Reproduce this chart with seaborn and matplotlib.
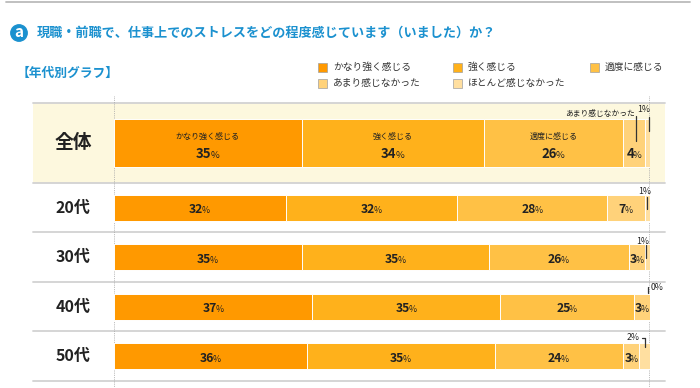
import numpy as np
import pandas as pd
import matplotlib
matplotlib.use('Agg')
import matplotlib.pyplot as plt
import matplotlib.transforms as mtransforms
from matplotlib.patches import Rectangle, Circle
import seaborn as sns

sns.set_theme(style='white')
plt.rcParams['font.family'] = ['Noto Sans CJK JP', 'DejaVu Sans']

# ---------------- data ----------------
title = '現職・前職で、仕事上でのストレスをどの程度感じています（いました）か？'
subtitle = '【年代別グラフ】'
segments = ['かなり強く感じる', '強く感じる', '適度に感じる', 'あまり感じなかった', 'ほとんど感じなかった']
colors = ['#FF9900', '#FFB11B', '#FFC145', '#FFD27A', '#FFDFA0']

total_rows = ['全体']
age_rows = ['20代', '30代', '40代', '50代']

v_total = [35, 34, 26, 4, 1]
v_20s = [32, 32, 28, 7, 1]
v_30s = [35, 35, 26, 3, 1]
v_40s = [37, 35, 25, 3, 0]
v_50s = [36, 35, 24, 3, 2]
values = {'全体': v_total, '20代': v_20s, '30代': v_30s, '40代': v_40s, '50代': v_50s}

# ---------------- figure ----------------
W, H = 700, 388
fig = plt.figure(figsize=(7, 3.88), dpi=100)

bg = fig.add_axes([0, 0, 1, 1])
bg.set_xlim(0, W)
bg.set_ylim(H, 0)
bg.axis('off')

BLUE = '#1B91CF'
TXT = '#222222'
GRID = '#D2D2D2'
LEAD = '#333333'
PX = 0.72  # points per pixel

# top rule
bg.plot([6, 690], [2, 2], color='#BBBBBB', lw=1.3)
# title
bg.add_patch(Circle((19, 33), 8.2, color=BLUE))
bg.text(19, 32, 'a', color='white', fontsize=11, fontweight='bold', ha='center', va='center')
bg.text(37, 33, title, color=BLUE, fontsize=9.45, fontweight='bold', ha='left', va='center')
bg.text(17, 73, subtitle, color=BLUE, fontsize=9.2, fontweight='bold', ha='left', va='center')

# legend
leg_pos = [(318, 67), (453, 67), (590, 67), (318, 83), (453, 83)]
for (lx, ly), seg, c in zip(leg_pos, segments, colors):
    bg.add_patch(Rectangle((lx, ly - 4.5), 9, 9, facecolor=c, edgecolor='#A0A0A0', lw=0.5))
    bg.text(lx + 15, ly, seg, fontsize=7, color='#333333', ha='left', va='center')

# cream band & separators
bg.add_patch(Rectangle((33, 103), 632, 80, facecolor='#FDF8DE', edgecolor='none', zorder=0))
for yy in [103, 183, 232, 282, 331, 381]:
    bg.plot([33, 665], [yy, yy], color=GRID, lw=1.3, zorder=1)
for xx in [114, 649]:
    bg.plot([xx, xx], [96, 388], color='#A8A8A8', lw=0.6, ls=(0, (1, 1.2)), zorder=1)

# bar axes
x0, x1 = 114, 650
ax_all = fig.add_axes([x0 / W, 1 - 183 / H, (x1 - x0) / W, 80 / H])
ax_age = fig.add_axes([x0 / W, 1 - 381 / H, (x1 - x0) / W, 198 / H])

palette = dict(zip(segments, colors))


def draw(ax, rows, width):
    recs = []
    for r in rows:
        cum = 0
        for s, v in zip(segments, values[r]):
            cum += v
            recs.append(dict(row=r, seg=s, cum=cum, val=v))
    df = pd.DataFrame(recs)
    sns.barplot(data=df, x='cum', y='row', hue='seg', hue_order=segments[::-1],
                palette=palette, dodge=False, order=rows, width=width, orient='h',
                ax=ax, legend=False, edgecolor='white', linewidth=0.7,
                errorbar=None, saturation=1)
    ax.set_xlim(0, 100)
    ax.set_ylim(len(rows) - 0.5, -0.5)
    ax.set_facecolor('none')
    ax.axis('off')


draw(ax_all, total_rows, 0.6)
draw(ax_age, age_rows, 0.525)


def pct(ax, x, y, val, size=9, dy=0.0):
    digits = str(val)
    wn = 0.56 * size * len(digits)
    wp = 0.75 * size * 0.72
    split = (wn - wp) / 2
    ty = dy - 0.36 * size
    ax.annotate(digits, (x, y), xytext=(split, ty),
                textcoords='offset points', ha='right', va='baseline',
                fontsize=size, fontweight='bold', color=TXT, annotation_clip=False)
    ax.annotate('%', (x, y), xytext=(split - 1.0, ty),
                textcoords='offset points', ha='left', va='baseline',
                fontsize=size * 0.72, color=TXT, annotation_clip=False)


def centers(vals):
    c = np.cumsum(vals)
    return c - np.array(vals) / 2


# category labels (left)
lab_tr_all = mtransforms.blended_transform_factory(bg.transData, ax_all.transData)
lab_tr_age = mtransforms.blended_transform_factory(bg.transData, ax_age.transData)
bg.text(73, 0, total_rows[0], transform=lab_tr_all, fontsize=13.5, fontweight='bold',
        color=TXT, ha='center', va='center')
for i, r in enumerate(age_rows):
    bg.text(73, i, r, transform=lab_tr_age, fontsize=11.5, fontweight='bold',
            color=TXT, ha='center', va='center')

# ---- 全体 row labels ----
cs = centers(v_total)
for k in range(3):
    ax_all.annotate(segments[k], (cs[k], 0), xytext=(0, 7 * PX), textcoords='offset points',
                    ha='center', va='center', fontsize=5.8, color=TXT)
for k in range(4):
    pct(ax_all, cs[k], 0, v_total[k], size=9.5, dy=-10 * PX)

tr_all = mtransforms.blended_transform_factory(ax_all.transData, bg.transData)
ax_all.plot([cs[3] + 0.3, cs[3] + 0.3], [116, 141], transform=tr_all, color=LEAD, lw=0.9,
            clip_on=False, zorder=5)
ax_all.text(cs[3] + 0.1, 114, segments[3], transform=tr_all, fontsize=5.6, color=TXT,
            ha='right', va='center', clip_on=False)
ax_all.plot([cs[4] + 0.3, cs[4] + 0.3], [117, 131], transform=tr_all, color=LEAD, lw=0.9,
            clip_on=False, zorder=5)
ax_all.text(cs[4] - 0.6, 110, f'{v_total[4]}%', transform=tr_all, fontsize=6.3, color=TXT,
            ha='center', va='center', clip_on=False)

# ---- age rows ----
tr_age = mtransforms.blended_transform_factory(ax_age.transData, bg.transData)
small_cfg = {
    # row: (text dx px, text y px, line dx px, line y0, line y1)
    '20代': (-3, 192, 0, 197, 209),
    '30代': (-5, 241, -1, 245, 258),
    '40代': (7, 288, -2, 287, 293),
    '50代': (-12, 337, 0, 338, 347),
}
for i, r in enumerate(age_rows):
    vals = values[r]
    cs = centers(vals)
    for k in range(4):
        pct(ax_age, cs[k], i, vals[k], size=8.8, dy=-1 * PX)
    tdx, ty, ldx, ly0, ly1 = small_cfg[r]
    ax_age.annotate(f'{vals[4]}%', (cs[4], ty), xycoords=tr_age, xytext=(tdx * PX, 0),
                    textcoords='offset points', ha='center', va='center', fontsize=6.3,
                    color=TXT, annotation_clip=False)
    lx = cs[4] - 0.19 * (-ldx) if ldx else cs[4]
    lx = cs[4] + ldx / 5.36
    ax_age.plot([lx, lx], [ly0, ly1], transform=tr_age, color=LEAD, lw=0.9,
                clip_on=False, zorder=5)
    if r == '50代':
        ax_age.plot([lx - 0.45, lx], [ly0, ly0], transform=tr_age, color=LEAD, lw=0.9,
                    clip_on=False, zorder=5)

fig.savefig('out.png', dpi=100)
